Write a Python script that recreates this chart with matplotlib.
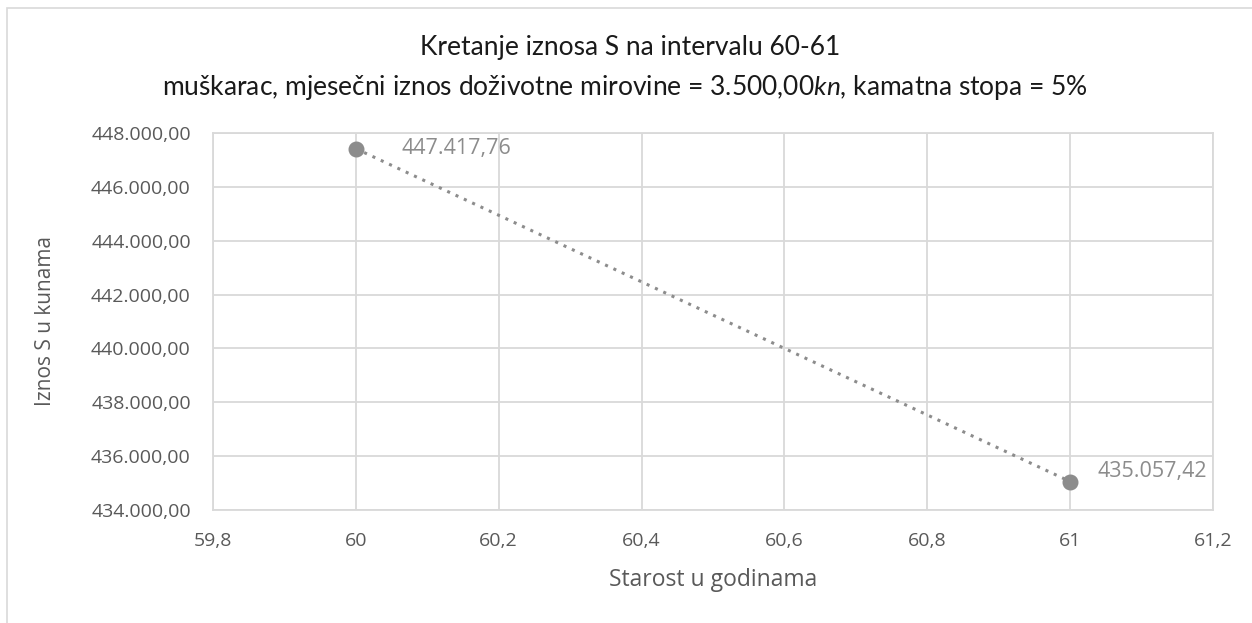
import matplotlib
matplotlib.use("Agg")
import matplotlib.pyplot as plt
from matplotlib.ticker import FuncFormatter, MultipleLocator
from matplotlib.patches import Rectangle

TITLE_FONT = "Lato"
BODY_FONT = "Open Sans"
plt.rcParams['font.family'] = [BODY_FONT, 'DejaVu Sans']
plt.rcParams['mathtext.fontset'] = 'custom'
plt.rcParams['mathtext.rm'] = TITLE_FONT
plt.rcParams['mathtext.it'] = TITLE_FONT + ':italic'

# Data
ages = [60, 61]
amounts = [447417.76, 435057.42]
title_line1 = "Kretanje iznosa S na intervalu 60-61"
title_line2 = "muškarac, mjesečni iznos doživotne mirovine = 3.500,00$\\it{kn}$, kamatna stopa = 5%"
xlabel = "Starost u godinama"
ylabel = "Iznos S u kunama"


def hr_num(v, decimals=2):
    s = f"{v:,.{decimals}f}"
    return s.replace(",", "X").replace(".", ",").replace("X", ".")


def hr_x(v, pos=None):
    s = f"{v:.1f}".rstrip("0").rstrip(".")
    return s.replace(".", ",")


W, H = 1252, 623
L, R, T, B = 213, 1213, 133, 510
fig = plt.figure(figsize=(W / 100, H / 100), dpi=100)
ax = fig.add_axes([L / W, 1 - B / H, (R - L) / W, (B - T) / H])

# outer chart frame
fig.patches.append(Rectangle((7 / W, -0.1), 1.2, 1 - 8 / H + 0.1, transform=fig.transFigure,
                             fill=False, edgecolor="#d9d9d9", linewidth=1.2))

ax.plot(ages, amounts, linestyle=(0, (1, 2)), color="#8c8c8c", linewidth=2.2, zorder=3)
ax.plot(ages, amounts, linestyle="none", marker="o", markersize=10.5, color="#8c8c8c", zorder=4)

label_offsets = [(33, 0), (20, 7)]
for (xv, yv), off in zip(zip(ages, amounts), label_offsets):
    ax.annotate(hr_num(yv), (xv, yv), xytext=off, textcoords="offset points",
                va="center", ha="left", fontsize=15.5, color="#8c8c8c")

ax.set_xlim(59.8, 61.2)
ax.set_ylim(434000, 448000)
ax.xaxis.set_major_locator(MultipleLocator(0.2))
ax.yaxis.set_major_locator(MultipleLocator(2000))
ax.xaxis.set_major_formatter(FuncFormatter(hr_x))
ax.yaxis.set_major_formatter(FuncFormatter(lambda v, p: hr_num(v)))

ax.grid(True, color="#d9d9d9", linewidth=1.3)
ax.set_axisbelow(True)
for sp in ax.spines.values():
    sp.set_color("#d9d9d9")
    sp.set_linewidth(1.3)
ax.tick_params(length=0, labelsize=14, colors="#595959")
ax.tick_params(axis="y", pad=16)
ax.tick_params(axis="x", pad=16)

ax.set_xlabel(xlabel, fontsize=16.5, color="#595959", va="center")
ax.set_ylabel(ylabel, fontsize=15, color="#595959", va="center")
ax.xaxis.set_label_coords(0.5, (B - 580) / (B - T))
ax.yaxis.set_label_coords((46 - L) / (R - L), 0.5)

fig.text(630 / W, 1 - 47 / H, title_line1, ha="center", va="center", fontsize=19,
         color="#1a1a1a", family=TITLE_FONT)
fig.text(625 / W, 1 - 87 / H, title_line2, ha="center", va="center", fontsize=19,
         color="#1a1a1a", family=TITLE_FONT)

fig.savefig("out.png", dpi=100)
